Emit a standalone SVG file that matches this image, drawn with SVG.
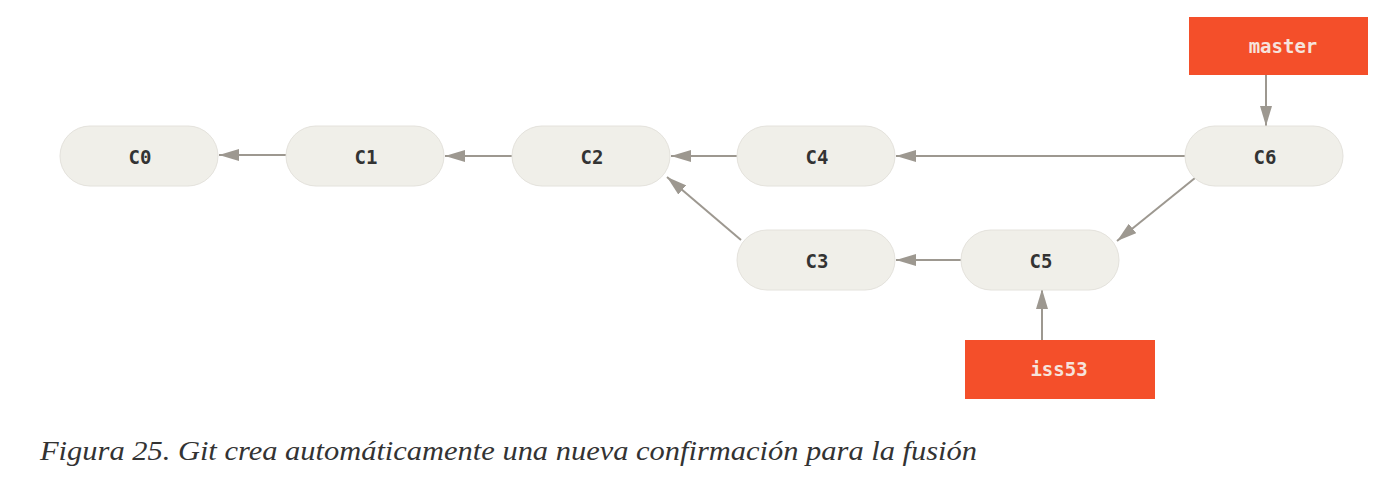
<svg xmlns="http://www.w3.org/2000/svg" width="1394" height="480" viewBox="0 0 1394 480">
<style>
.commit rect{fill:#f0efe9;stroke:#e4e2dc;stroke-width:1}
.commit text{font-family:"DejaVu Sans Mono",monospace;font-size:19px;fill:#333;text-anchor:middle;dominant-baseline:central;font-weight:bold}
.branch rect{fill:#f44f2a}
.branch text{font-family:"DejaVu Sans Mono",monospace;font-size:19px;fill:#f6e3dc;text-anchor:middle;dominant-baseline:central;font-weight:bold}
.edge{stroke:#9d9890;stroke-width:2;fill:none;marker-end:url(#ah)}
.cap{font-family:"Liberation Serif",serif;font-style:italic;font-size:28px;fill:#333}
</style>
<defs>
<marker id="ah" markerWidth="20" markerHeight="12" refX="20" refY="6" orient="auto" markerUnits="userSpaceOnUse">
<path d="M0,0 L20,6 L0,12 Z" fill="#9d9890"/>
</marker>
</defs>
<rect width="1394" height="480" fill="#fff"/>
<g id="connectors">
<line class="edge" x1="286" y1="155" x2="219" y2="155"/>
<line class="edge" x1="512" y1="156" x2="445" y2="156"/>
<line class="edge" x1="737" y1="156" x2="671" y2="156"/>
<line class="edge" x1="1185" y1="156" x2="896" y2="156"/>
<line class="edge" x1="961" y1="260" x2="896" y2="260"/>
<line class="edge" x1="741" y1="240" x2="667" y2="177"/>
<line class="edge" x1="1195" y1="178" x2="1117" y2="241"/>
<line class="edge" x1="1266" y1="75" x2="1266" y2="126"/>
<line class="edge" x1="1042" y1="340" x2="1042" y2="289"/>
</g>
<g id="C0" class="commit"><rect x="60" y="126" width="158" height="60" rx="30"/><text x="140" y="157">C0</text></g>
<g id="C1" class="commit"><rect x="286" y="126" width="158" height="60" rx="30"/><text x="366" y="157">C1</text></g>
<g id="C2" class="commit"><rect x="512" y="126" width="158" height="60" rx="30"/><text x="592" y="157">C2</text></g>
<g id="C4" class="commit"><rect x="737" y="126" width="158" height="60" rx="30"/><text x="817" y="157">C4</text></g>
<g id="C6" class="commit"><rect x="1185" y="126" width="158" height="60" rx="30"/><text x="1265" y="157">C6</text></g>
<g id="C3" class="commit"><rect x="737" y="230" width="158" height="60" rx="30"/><text x="817" y="261">C3</text></g>
<g id="C5" class="commit"><rect x="961" y="230" width="158" height="60" rx="30"/><text x="1041" y="261">C5</text></g>
<g id="master" class="branch"><rect x="1189" y="17" width="179" height="58"/><text x="1283" y="46">master</text></g>
<g id="iss53" class="branch"><rect x="965" y="340" width="190" height="59"/><text x="1059" y="369">iss53</text></g>
<text class="cap" x="40" y="460" textLength="937" lengthAdjust="spacingAndGlyphs">Figura 25. Git crea automáticamente una nueva confirmación para la fusión</text>
</svg>
